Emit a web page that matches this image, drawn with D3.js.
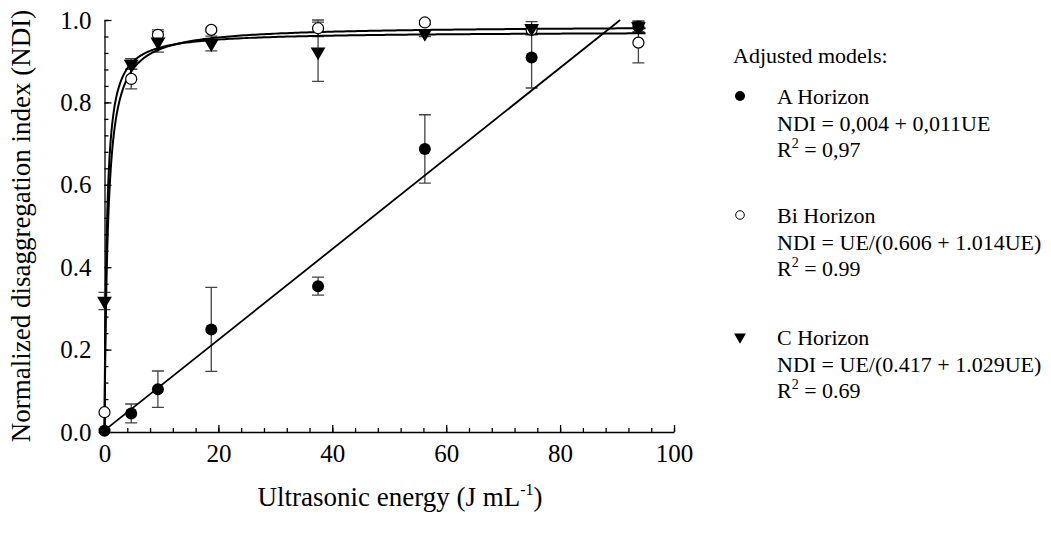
<!DOCTYPE html>
<html>
<head>
<meta charset="utf-8">
<script src="https://cdn.jsdelivr.net/npm/d3@7"></script>
<style>
    body { margin: 0; background: #fff; }
    svg, svg text { font-family: "Liberation Serif", "Times New Roman", serif; }
    svg { display: block; }
    .axis path, .axis line { stroke: #000; stroke-width: 1.3; }
    .axis text { font-size: 25px; fill: #000; font-family: "Liberation Serif", serif; }
</style>
</head>
<body>
<div id="chart"></div>
<script>
"use strict";

// ultrasonic energy levels (J mL-1)
const energy = [0, 4.69, 9.38, 18.75, 37.5, 56.25, 75, 93.75];

// normalized disaggregation index, mean and error per horizon
const ndiA = [0.003, 0.045, 0.104, 0.249, 0.354, 0.687, 0.909, 0.984];
const errA = [0.004, 0.023, 0.044, 0.102, 0.022, 0.083, 0.074, 0.012];
const ndiBi = [0.048, 0.857, 0.964, 0.976, 0.980, 0.994, 0.976, 0.945];
const errBi = [0, 0.024, 0.012, 0.005, 0.020, 0.005, 0.010, 0.049];
const ndiC = [0.318, 0.893, 0.947, 0.943, 0.923, 0.968, 0.980, 0.984];
const errC = [0.021, 0.013, 0.025, 0.018, 0.072, 0.008, 0.016, 0.014];

// adjusted model coefficients (from the legend)
const linA = [0.004, 0.011];        // NDI = a + b*UE
const hypBi = [0.606, 1.014];       // NDI = UE/(a + b*UE)
const hypC = [0.417, 1.029];

const xTicks = [0, 20, 40, 60, 80, 100];
const yTicks = [0.0, 0.2, 0.4, 0.6, 0.8, 1.0];

const margin = {top: 20, right: 377, bottom: 102, left: 104.5};
const W = 1051, H = 534;
const width = W - margin.left - margin.right;
const height = H - margin.top - margin.bottom;

const svg = d3.select("#chart").append("svg")
    .attr("width", W)
    .attr("height", H);

const g = svg.append("g")
    .attr("transform", "translate(" + margin.left + "," + margin.top + ")");

const x = d3.scaleLinear().domain([0, 100]).range([0, width]);
const y = d3.scaleLinear().domain([0, 1]).range([height, 0]);

// minor ticks
g.append("g")
    .attr("class", "axis")
    .attr("transform", "translate(0," + height + ")")
    .call(d3.axisBottom(x).tickValues(d3.range(0, 101, 4)).tickSize(-4).tickFormat(""))
    .select(".domain").remove();
g.append("g")
    .attr("class", "axis")
    .call(d3.axisLeft(y).tickValues(d3.range(0, 1.001, 0.04)).tickSize(-4).tickFormat(""))
    .select(".domain").remove();

// major ticks + labels
g.append("g")
    .attr("class", "axis")
    .attr("font-family", null)
    .attr("transform", "translate(0," + height + ")")
    .call(d3.axisBottom(x).tickValues(xTicks).tickSize(-7).tickSizeOuter(0).tickPadding(12).tickFormat(d3.format("d")));

g.append("g")
    .attr("class", "axis")
    .call(d3.axisLeft(y).tickValues(yTicks).tickSize(-7).tickSizeOuter(0).tickPadding(13).tickFormat(d3.format(".1f")));

g.selectAll(".axis").attr("font-family", null);

// axis titles
svg.append("text")
    .attr("x", 400)
    .attr("y", 506)
    .attr("text-anchor", "middle")
    .style("font-size", "27px")
    .html('Ultrasonic energy (J mL<tspan dy="-11" font-size="16px">-1</tspan><tspan dy="11">)</tspan>');

svg.append("text")
    .attr("transform", "translate(30," + (margin.top + height / 2) + ")rotate(-90)")
    .attr("text-anchor", "middle")
    .style("font-size", "27px")
    .text("Normalized disaggregation index (NDI)");

// error bars
const series = [
    {key: "A", ndi: ndiA, err: errA},
    {key: "Bi", ndi: ndiBi, err: errBi},
    {key: "C", ndi: ndiC, err: errC}
];
const cap = 6;
series.forEach((s) => {
    const rows = energy.map((e, i) => ({e: e, v: s.ndi[i], d: s.err[i]})).filter((r) => r.d > 0);
    const eb = g.append("g").attr("stroke", "#444").attr("stroke-width", 1.3).attr("fill", "none");
    eb.selectAll("path").data(rows).enter().append("path")
        .attr("d", (r) => {
            const cx = x(r.e), y0 = y(r.v - r.d), y1 = y(r.v + r.d);
            return "M" + cx + "," + y0 + "V" + y1 +
                "M" + (cx - cap) + "," + y0 + "H" + (cx + cap) +
                "M" + (cx - cap) + "," + y1 + "H" + (cx + cap);
        });
});

// fitted models
const line = d3.line().x((d) => x(d[0])).y((d) => y(d[1]));
const ueA = [0, (1 - linA[0]) / linA[1]];
g.append("path")
    .datum(ueA.map((u) => [u, linA[0] + linA[1] * u]))
    .attr("fill", "none").attr("stroke", "#000").attr("stroke-width", 1.8)
    .attr("d", line);

const ueFine = d3.range(0, 1, 0.02).concat(d3.range(1, 10, 0.1), d3.range(10, 95.01, 0.5));
[hypBi, hypC].forEach((p) => {
    g.append("path")
        .datum(ueFine.map((u) => [u, u / (p[0] + p[1] * u)]))
        .attr("fill", "none").attr("stroke", "#000").attr("stroke-width", 2)
        .attr("d", line);
});

// markers
const tri = d3.symbol().type(d3.symbolTriangle).size(95);
g.append("g").selectAll("circle").data(energy).enter().append("circle")
    .attr("cx", (d) => x(d)).attr("cy", (d, i) => y(ndiA[i])).attr("r", 6)
    .attr("fill", "#000");
g.append("g").selectAll("circle").data(energy).enter().append("circle")
    .attr("cx", (d) => x(d)).attr("cy", (d, i) => y(ndiBi[i])).attr("r", 5.5)
    .attr("fill", "#fff").attr("stroke", "#000").attr("stroke-width", 1.2);
g.append("g").selectAll("path").data(energy).enter().append("path")
    .attr("d", tri)
    .attr("transform", (d, i) => "translate(" + x(d) + "," + y(ndiC[i]) + ")rotate(180)")
    .attr("fill", "#000");

// legend
const legend = svg.append("g").style("font-size", "22px");
legend.append("text").attr("x", 733).attr("y", 63).text("Adjusted models:");

const entries = [
    {name: "A Horizon", eq: "NDI = 0,004 + 0,011UE", r2: "0,97", y: 104},
    {name: "Bi Horizon", eq: "NDI = UE/(0.606 + 1.014UE)", r2: "0.99", y: 223},
    {name: "C Horizon", eq: "NDI = UE/(0.417 + 1.029UE)", r2: "0.69", y: 345}
];
entries.forEach((e, i) => {
    const cy = e.y - 8;
    if (i === 0) {
        legend.append("circle").attr("cx", 740).attr("cy", cy).attr("r", 5).attr("fill", "#000");
    } else if (i === 1) {
        legend.append("circle").attr("cx", 740).attr("cy", cy).attr("r", 4.3)
            .attr("fill", "#fff").attr("stroke", "#000").attr("stroke-width", 1);
    } else {
        legend.append("path").attr("d", d3.symbol().type(d3.symbolTriangle).size(60))
            .attr("transform", "translate(740," + cy + ")rotate(180)").attr("fill", "#000");
    }
    legend.append("text").attr("x", 777).attr("y", e.y).text(e.name);
    legend.append("text").attr("x", 777).attr("y", e.y + 26.5).text(e.eq);
    legend.append("text").attr("x", 777).attr("y", e.y + 53)
        .html('R<tspan dy="-9" font-size="14px">2</tspan><tspan dy="9"> = ' + e.r2 + '</tspan>');
});
</script>
</body>
</html>
